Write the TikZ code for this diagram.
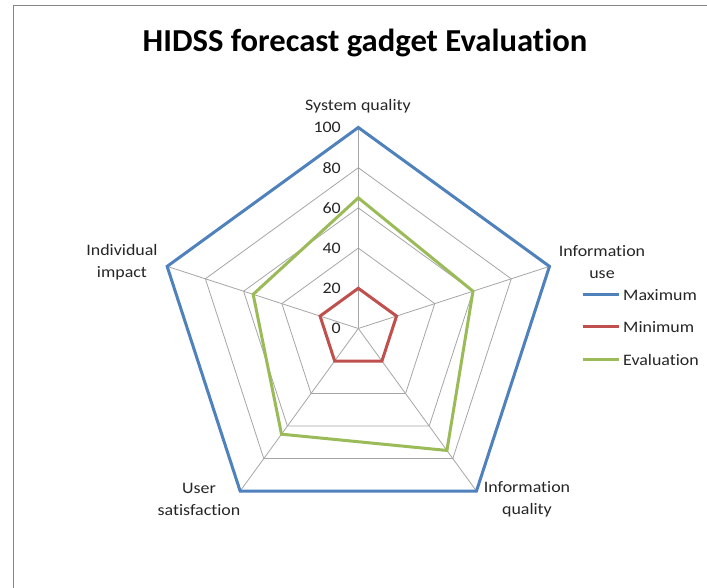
\documentclass[tikz,border=0pt]{standalone}
\usepackage{fontspec}
\setmainfont{Carlito}[Ligatures=NoCommon]
\newfontfamily\titlefont{Carlito}[Ligatures=NoCommon, FakeStretch=1.02]
\newfontfamily\labelfont{Carlito}[Ligatures=NoCommon, FakeStretch=1.12]
\definecolor{maxc}{HTML}{4F81BD}
\definecolor{minc}{HTML}{C0504D}
\definecolor{evalc}{HTML}{9BBB59}
\definecolor{gridc}{HTML}{A6A6A6}
\definecolor{framec}{HTML}{868686}
\definecolor{txtc}{HTML}{262626}
\tikzset{
  gridline/.style={draw=gridc, line width=0.8pt},
  series/.style={line width=3pt, line join=miter},
  lbl/.style={font=\labelfont\fontsize{16}{22}\selectfont, text=txtc, align=center, inner sep=0pt},
  tick/.style={font=\labelfont\fontsize{16}{18}\selectfont, text=txtc, anchor=east, inner sep=0pt},
  legtxt/.style={font=\labelfont\fontsize{16}{18}\selectfont, text=txtc, anchor=west, inner sep=0pt}
}
\begin{document}
\begin{tikzpicture}[x=1pt,y=1pt]
\useasboundingbox (0,0) rectangle (707,588);
\fill[white] (0,0) rectangle (707,588);
\draw[framec, line width=1pt] (13,-10) -- (13,582) -- (720,582);
\node[font=\titlefont\bfseries\fontsize{32}{36}\selectfont, inner sep=0pt] (title) at (365,545) {HIDSS forecast gadget Evaluation};
\begin{scope}[shift={(358.3,259.5)}]
  \foreach \k in {1,...,5}
    \draw[gridline] (90:\k*40.2pt) -- (18:\k*40.2pt) -- (-54:\k*40.2pt) -- (-126:\k*40.2pt) -- (162:\k*40.2pt) -- cycle;
  \foreach \a in {90,18,-54,-126,162}
    \draw[gridline] (0,0) -- (\a:201pt);
  \draw[series, maxc] (90:201pt) -- (18:201pt) -- (-54:201pt) -- (-126:201pt) -- (162:201pt) -- cycle;
  \draw[series, minc] (90:40.2pt) -- (18:40.2pt) -- (-54:40.2pt) -- (-126:40.2pt) -- (162:40.2pt) -- cycle;
  \draw[series, evalc] (90:0.65*201pt) -- (18:0.60*201pt) -- (-54:0.75*201pt) -- (-126:0.65*201pt) -- (162:0.55*201pt) -- cycle;
\end{scope}
\foreach \v/\n in {0/t0,20/t20,40/t40,60/t60,80/t80,100/t100}
  \node[tick] (\n) at (341, 259.5+\v*2.01) {\v};
\node[lbl] (sq) at (358,482) {System quality};
\node[lbl] (iu) at (602,326) {Information\\use};
\node[lbl] (ii) at (122,326) {Individual\\impact};
\node[lbl] (us) at (199,89) {User\\satisfaction};
\node[lbl] (iq) at (527,89) {Information\\quality};
\coordinate (l1a) at (583,293); \coordinate (l1b) at (619,293);
\coordinate (l2a) at (583,261); \coordinate (l2b) at (619,261);
\coordinate (l3a) at (583,228); \coordinate (l3b) at (619,228);
\draw[series, maxc] (l1a) -- (l1b);
\draw[series, minc] (l2a) -- (l2b);
\draw[series, evalc] (l3a) -- (l3b);
\node[legtxt] (lg1) at (623,293) {Maximum};
\node[legtxt] (lg2) at (623,261) {Minimum};
\node[legtxt] (lg3) at (623,228) {Evaluation};
\end{tikzpicture}
\end{document}
